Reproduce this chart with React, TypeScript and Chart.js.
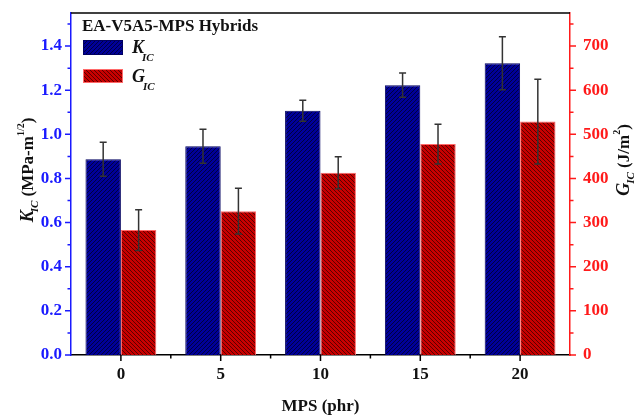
import React, { useEffect, useRef } from 'react';
import { Chart, registerables } from 'chart.js';

Chart.register(...registerables);

// ---- data ----
const categories = ['0', '5', '10', '15', '20'];
const kicValues = [0.887, 0.946, 1.107, 1.223, 1.322];
const kicErrors = [0.077, 0.077, 0.048, 0.055, 0.12];
const gicValues = [283, 326, 413, 478, 529];
const gicErrors = [46, 52, 36, 45, 96];
const leftTicks = [0, 0.2, 0.4, 0.6, 0.8, 1.0, 1.2, 1.4];
const rightTicks = [0, 100, 200, 300, 400, 500, 600, 700];
const chartTitle = 'EA-V5A5-MPS Hybrids';
const xTitle = 'MPS (phr)';

const FONT = '"Liberation Serif", "Times New Roman", serif';
const BLUE = '#1a1aff';
const RED = '#ff1a1a';

type Seg = { t: string; size: number; style: string; dy: number; dx?: number };

function drawSegs(ctx: CanvasRenderingContext2D, segs: Seg[], cx: number, cy: number, rotate: boolean, align: 'center' | 'left', color: string) {
  ctx.save();
  ctx.translate(cx, cy);
  if (rotate) ctx.rotate(-Math.PI / 2);
  ctx.fillStyle = color;
  ctx.textBaseline = 'alphabetic';
  ctx.textAlign = 'left';
  const widths = segs.map((s) => {
    ctx.font = `${s.style} ${s.size}px ${FONT}`;
    return ctx.measureText(s.t).width + (s.dx || 0);
  });
  const total = widths.reduce((a, b) => a + b, 0);
  let x = align === 'center' ? -total / 2 : 0;
  segs.forEach((s, i) => {
    ctx.font = `${s.style} ${s.size}px ${FONT}`;
    ctx.fillText(s.t, x + (s.dx || 0), s.dy);
    x += widths[i];
  });
  ctx.restore();
}

function makePattern(ctx: CanvasRenderingContext2D, base: string, line: string, forward: boolean) {
  const s = 4;
  const c = document.createElement('canvas');
  c.width = s;
  c.height = s;
  const g = c.getContext('2d')!;
  g.fillStyle = base;
  g.fillRect(0, 0, s, s);
  g.strokeStyle = line;
  g.lineWidth = 1;
  g.beginPath();
  if (forward) {
    g.moveTo(0, s); g.lineTo(s, 0);
    g.moveTo(-1, 1); g.lineTo(1, -1);
    g.moveTo(s - 1, s + 1); g.lineTo(s + 1, s - 1);
  } else {
    g.moveTo(0, 0); g.lineTo(s, s);
    g.moveTo(-1, s - 1); g.lineTo(1, s + 1);
    g.moveTo(s - 1, -1); g.lineTo(s + 1, 1);
  }
  g.stroke();
  return ctx.createPattern(c, 'repeat')!;
}

const decorPlugin = {
  id: 'decor',
  afterDatasetsDraw(chart: any) {
    const ctx: CanvasRenderingContext2D = chart.ctx;
    const errs = [kicErrors, gicErrors];
    const vals = [kicValues, gicValues];
    chart.data.datasets.forEach((ds: any, di: number) => {
      const meta = chart.getDatasetMeta(di);
      const ys = chart.scales[ds.yAxisID];
      meta.data.forEach((bar: any, i: number) => {
        const v = vals[di][i];
        const e = errs[di][i];
        const yt = ys.getPixelForValue(v + e);
        const yb = ys.getPixelForValue(v - e);
        ctx.save();
        ctx.strokeStyle = '#333';
        ctx.lineWidth = 1.5;
        ctx.beginPath();
        ctx.moveTo(bar.x, yt); ctx.lineTo(bar.x, yb);
        ctx.moveTo(bar.x - 3.5, yt); ctx.lineTo(bar.x + 3.5, yt);
        ctx.moveTo(bar.x - 3.5, yb); ctx.lineTo(bar.x + 3.5, yb);
        ctx.stroke();
        ctx.restore();
      });
    });
  },
  afterDraw(chart: any) {
    const ctx: CanvasRenderingContext2D = chart.ctx;
    const a = chart.chartArea;
    const yl = chart.scales.y;
    const yr = chart.scales.y1;
    const xs = chart.scales.x;
    ctx.save();
    ctx.lineWidth = 1.5;
    // top frame
    ctx.strokeStyle = '#000';
    ctx.beginPath();
    ctx.moveTo(a.left, a.top); ctx.lineTo(a.right, a.top);
    ctx.stroke();
    // left ticks
    ctx.strokeStyle = BLUE;
    ctx.beginPath();
    for (let k = 0; k <= 15; k++) {
      const v = k * 0.1;
      const y = yl.getPixelForValue(v);
      const len = k % 2 === 0 ? 6 : 3.5;
      ctx.moveTo(a.left, y); ctx.lineTo(a.left - len, y);
    }
    ctx.stroke();
    // right ticks
    ctx.strokeStyle = RED;
    ctx.beginPath();
    for (let k = 0; k <= 15; k++) {
      const v = k * 50;
      const y = yr.getPixelForValue(v);
      const len = k % 2 === 0 ? 6 : 3.5;
      ctx.moveTo(a.right, y); ctx.lineTo(a.right + len, y);
    }
    ctx.stroke();
    // bottom ticks
    ctx.strokeStyle = '#000';
    ctx.beginPath();
    for (let i = 0; i < categories.length; i++) {
      const x = xs.getPixelForValue(i);
      ctx.moveTo(x, a.bottom); ctx.lineTo(x, a.bottom + 6);
      if (i > 0) {
        const xm = (x + xs.getPixelForValue(i - 1)) / 2;
        ctx.moveTo(xm, a.bottom); ctx.lineTo(xm, a.bottom + 3.5);
      }
    }
    ctx.stroke();
    ctx.restore();

    // legend
    const ds = chart.data.datasets;
    ctx.save();
    ctx.fillStyle = '#111';
    ctx.font = `bold 17px ${FONT}`;
    ctx.textBaseline = 'alphabetic';
    ctx.fillText(chartTitle, 82, 31);
    const rows = [
      { y: 40, h: 15, ds: ds[0], letter: 'K', base: 53 },
      { y: 69, h: 14, ds: ds[1], letter: 'G', base: 82 },
    ];
    rows.forEach((r) => {
      ctx.fillStyle = r.ds.backgroundColor;
      ctx.fillRect(83, r.y, 40, r.h);
      ctx.strokeStyle = r.ds.borderColor;
      ctx.lineWidth = 1;
      ctx.strokeRect(83.5, r.y + 0.5, 39, r.h - 1);
      drawSegs(ctx, [
        { t: r.letter, size: 18, style: 'italic bold', dy: 0 },
        { t: 'IC', size: 11, style: 'italic bold', dy: 8, dx: -2 },
      ], 132, r.base, false, 'left', '#111');
    });
    ctx.restore();

    // axis titles
    drawSegs(ctx, [
      { t: 'K', size: 18, style: 'italic bold', dy: 6 },
      { t: 'IC', size: 11, style: 'italic bold', dy: 11, dx: -2 },
      { t: ' (MPa-m', size: 17, style: 'bold', dy: 6 },
      { t: '1/2', size: 10, style: 'bold', dy: -3 },
      { t: ')', size: 17, style: 'bold', dy: 6 },
    ], 27, 170, true, 'center', '#111');
    drawSegs(ctx, [
      { t: 'G', size: 18, style: 'italic bold', dy: 6 },
      { t: 'IC', size: 11, style: 'italic bold', dy: 11, dx: -1 },
      { t: ' (J/m', size: 17, style: 'bold', dy: 6 },
      { t: '2', size: 10, style: 'bold', dy: -3 },
      { t: ')', size: 17, style: 'bold', dy: 6 },
    ], 623, 160, true, 'center', '#111');
    drawSegs(ctx, [
      { t: xTitle, size: 17, style: 'bold', dy: 6 },
    ], (a.left + a.right) / 2, 405, false, 'center', '#111');
  },
};

const zeroPad = (s: any) => { s.paddingTop = 0; s.paddingBottom = 0; s.paddingLeft = 0; s.paddingRight = 0; };

export default function App() {
  const ref = useRef<HTMLCanvasElement | null>(null);
  useEffect(() => {
    document.body.style.margin = '0';
    const canvas = ref.current!;
    const ctx = canvas.getContext('2d')!;
    const bluePat = makePattern(ctx, '#00009a', '#000040', true);
    const redPat = makePattern(ctx, '#c80000', '#5a0000', false);
    const tickFont = { family: FONT, size: 17, weight: 'bold' as const };
    const chart = new Chart(canvas, {
      type: 'bar',
      data: {
        labels: categories,
        datasets: [
          {
            label: 'KIC',
            data: kicValues,
            yAxisID: 'y',
            backgroundColor: bluePat as any,
            borderColor: '#000060',
            borderWidth: 1,
            categoryPercentage: 0.71,
            barPercentage: 1,
          },
          {
            label: 'GIC',
            data: gicValues,
            yAxisID: 'y1',
            backgroundColor: redPat as any,
            borderColor: '#ff6a6a',
            borderWidth: 1,
            categoryPercentage: 0.71,
            barPercentage: 1,
          },
        ],
      },
      options: {
        responsive: false,
        animation: false,
        layout: { padding: { top: 13, left: 0, right: 0, bottom: 0 } },
        plugins: { legend: { display: false }, tooltip: { enabled: false } },
        scales: {
          x: {
            type: 'category',
            offset: true,
            grid: { display: false, drawTicks: false, offset: true },
            border: { color: '#000', width: 1.5 },
            ticks: { color: '#111', font: tickFont, padding: 9 },
            afterFit: (s: any) => { s.height = 61; zeroPad(s); },
          },
          y: {
            type: 'linear',
            position: 'left',
            min: 0,
            max: 1.55,
            afterBuildTicks: (s: any) => { s.ticks = leftTicks.map((v) => ({ value: v })); },
            ticks: { color: BLUE, font: tickFont, padding: 9, callback: (v: any) => Number(v).toFixed(1) },
            grid: { display: false, drawTicks: false },
            border: { color: BLUE, width: 1.5 },
            afterFit: (s: any) => { s.width = 71; zeroPad(s); },
          },
          y1: {
            type: 'linear',
            position: 'right',
            min: 0,
            max: 775,
            afterBuildTicks: (s: any) => { s.ticks = rightTicks.map((v) => ({ value: v })); },
            ticks: { color: RED, font: tickFont, padding: 13, callback: (v: any) => String(v) },
            grid: { display: false, drawTicks: false },
            border: { color: RED, width: 1.5 },
            afterFit: (s: any) => { s.width = 69; zeroPad(s); },
          },
        },
      },
      plugins: [decorPlugin],
    });
    return () => chart.destroy();
  }, []);
  return <canvas ref={ref} width={639} height={416} style={{ display: 'block' }} />;
}
